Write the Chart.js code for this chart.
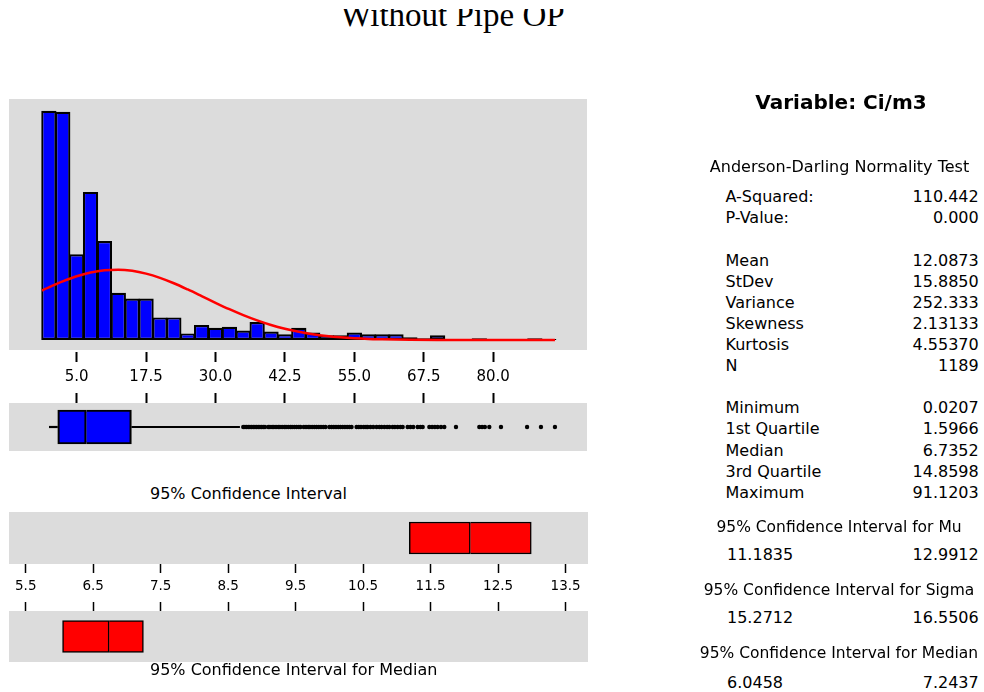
<!DOCTYPE html>
<html><head><meta charset="utf-8">
<script src="https://cdn.jsdelivr.net/npm/chart.js@4.4.1/dist/chart.umd.min.js"></script>
<style>
html,body{margin:0;padding:0;background:#fff;}
body{width:984px;height:692px;position:relative;overflow:hidden;font-family:"DejaVu Sans",sans-serif;color:#000;}
canvas{position:absolute;left:0;}
.t{position:absolute;white-space:nowrap;line-height:20px;height:20px;}
#titleClip{position:absolute;left:0;top:9px;width:984px;height:27px;overflow:hidden;}
#title{position:absolute;left:0;width:905px;text-align:center;top:-12.5px;font-family:"Liberation Serif","Times New Roman",serif;font-size:33px;line-height:36px;white-space:nowrap;}
</style></head><body>
<div id="titleClip"><div id="title">Without Pipe OP</div></div>
<canvas id="hist" width="600" height="300" style="top:90px"></canvas>
<canvas id="box" width="600" height="62" style="top:393px"></canvas>
<canvas id="ciMu" width="600" height="84" style="top:512px"></canvas>
<canvas id="ciMed" width="600" height="60" style="top:602px"></canvas>
<script>
// ---------------- data ----------------
const binCenters = [0, 2.5, 5, 7.5, 10, 12.5, 15, 17.5, 20, 22.5, 25, 27.5, 30, 32.5, 35, 37.5, 40, 42.5, 45, 47.5, 50, 52.5, 55, 57.5, 60, 62.5, 65, 67.5, 70, 72.5, 75, 77.5, 80, 82.5, 85, 87.5, 90];
const binCounts  = [243, 242, 91, 157, 105, 50, 44, 44, 24, 24, 7, 16, 13, 14, 10, 19, 9, 6, 13, 8, 5, 5, 8, 6, 6, 6, 3, 2, 5, 1, 0, 2, 1, 1, 0, 2, 1];
const curveX = [-1.25, 0, 2.5, 5, 7.5, 10, 12.5, 15, 17.5, 20, 22.5, 25, 27.5, 30, 32.5, 35, 37.5, 40, 42.5, 45, 47.5, 50, 52.5, 55, 57.5, 60, 62.5, 65, 70, 80, 91.12];
const curveY = [52.5, 55.9, 62.2, 67.6, 71.6, 74.0, 74.6, 73.4, 70.4, 65.9, 60.2, 53.6, 46.6, 39.5, 32.7, 26.4, 20.8, 15.9, 11.9, 8.7, 6.2, 4.3, 2.9, 1.9, 1.2, 0.8, 0.5, 0.3, 0.1, 0, 0];
const histTicks = [5.0, 17.5, 30.0, 42.5, 55.0, 67.5, 80.0];

const boxMin = 0.0207, boxQ1 = 1.5966, boxMedian = 6.7352, boxQ3 = 14.8598, whiskerHigh = 34.4;
const outliers = [35.0, 35.3, 35.6, 35.9, 36.2, 36.5, 36.8, 37.1, 37.4, 37.7, 38.0, 38.3, 38.6, 38.9,
  39.5, 39.8, 40.2, 40.5, 40.9, 41.3, 41.6, 42.0, 42.4, 42.7, 43.1, 43.5, 43.8, 44.2, 44.6, 45.0, 45.3,
  45.9, 46.3, 46.7, 47.0, 47.4, 47.8, 48.2, 48.6, 49.0, 49.4, 49.8,
  50.5, 50.9, 51.3, 51.7, 52.1, 52.5, 52.9, 53.3, 53.7, 54.1, 54.5,
  55.4, 55.8, 56.2, 56.7, 57.1, 57.4, 57.9, 58.4, 59.0,
  59.5, 59.9, 60.4, 60.9, 61.3, 61.9, 62.3, 62.8, 63.3, 63.7,
  64.6, 65.1, 65.6, 66.4, 66.9, 67.3, 68.5, 69.0, 69.5, 70.0, 70.6, 71.2,
  73.3, 77.5, 78.0, 78.5, 79.3, 81.4, 86.1, 88.6, 91.12];

const muLow = 11.1835, meanVal = 12.0873, muHigh = 12.9912;
const medLow = 6.0458, medVal = 6.7352, medHigh = 7.2437;
const ciTicks = [5.5, 6.5, 7.5, 8.5, 9.5, 10.5, 11.5, 12.5, 13.5];

const statNames  = ["A-Squared:", "P-Value:", "Mean", "StDev", "Variance", "Skewness", "Kurtosis", "N", "Minimum", "1st Quartile", "Median", "3rd Quartile", "Maximum"];
const statValues = ["110.442", "0.000", "12.0873", "15.8850", "252.333", "2.13133", "4.55370", "1189", "0.0207", "1.5966", "6.7352", "14.8598", "91.1203"];
const ciHeads  = ["95% Confidence Interval for Mu", "95% Confidence Interval for Sigma", "95% Confidence Interval for Median"];
const ciLows   = ["11.1835", "15.2712", "6.0458"];
const ciHighs  = ["12.9912", "16.5506", "7.2437"];

// ---------------- layout ----------------
const statRowY = [197.3, 218.3, 260.7, 281.7, 302.5, 323.5, 344.5, 365.5, 408.3, 429.3, 450.5, 471.5, 492.8];
const ciHeadY = [526.7, 590, 653.3];
const ciValY  = [555, 618.3, 683.3];

function addText(txt, x, y, align, size, weight) {
  const d = document.createElement('div');
  d.className = 't';
  d.textContent = txt;
  d.style.fontSize = size + 'px';
  if (weight) d.style.fontWeight = weight;
  d.style.top = (y - 10) + 'px';
  if (align === 'left') d.style.left = x + 'px';
  else if (align === 'right') d.style.right = (984 - x) + 'px';
  else { d.style.left = (x - 300) + 'px'; d.style.width = '600px'; d.style.textAlign = 'center'; }
  document.body.appendChild(d);
}

addText("Variable: Ci/m3", 841, 102, 'center', 20, 'bold');
addText("Anderson-Darling Normality Test", 839.5, 166.7, 'center', 16);
statNames.forEach((n, i) => {
  addText(n, 725.5, statRowY[i], 'left', 16);
  addText(statValues[i], 978.7, statRowY[i], 'right', 16);
});
ciHeads.forEach((h, i) => {
  addText(h, 839, ciHeadY[i], 'center', 15.5);
  addText(ciLows[i], 727, ciValY[i], 'left', 16);
  addText(ciHighs[i], 978.7, ciValY[i], 'right', 16);
});
addText("95% Confidence Interval", 150, 494.3, 'left', 16);
addText("95% Confidence Interval for Median", 150, 670, 'left', 16);

// ---------------- charts ----------------
const panelBg = {
  id: 'panelBg',
  beforeDraw(chart, args, opts) {
    const a = chart.chartArea, c = chart.ctx;
    const it = opts.insetTop || 0, ib = opts.insetBottom || 0;
    c.save();
    c.fillStyle = '#dcdcdc';
    c.fillRect(a.left, a.top + it, a.right - a.left, a.bottom - a.top - it - ib);
    c.restore();
  }
};
function fixedTicks(values) { return function (scale) { scale.ticks = values.map(v => ({ value: v })); }; }

const X_MIN = -7.18, X_MAX = 96.89;
const CI_MIN = 5.252, CI_MAX = 13.832;
const common = { responsive: false, animation: false, devicePixelRatio: 1, events: [] };

new Chart(document.getElementById('hist'), {
  type: 'bar',
  data: { datasets: [
    { type: 'line', data: curveX.map((x, i) => ({ x: x, y: curveY[i] })), borderColor: '#ff0000', borderWidth: 2.5,
      pointRadius: 0, cubicInterpolationMode: 'monotone', fill: false },
    { type: 'bar', data: binCenters.map((x, i) => ({ x: x, y: binCounts[i] })), backgroundColor: '#0000ff',
      borderColor: '#000', borderWidth: 2.2, borderSkipped: false, barPercentage: 1.1, categoryPercentage: 1 }
  ] },
  options: Object.assign({}, common, {
    layout: { padding: { left: 9, right: 13, top: 9, bottom: 0 } },
    plugins: { legend: { display: false }, tooltip: { enabled: false }, panelBg: { insetBottom: 2 } },
    scales: {
      x: { type: 'linear', min: X_MIN, max: X_MAX, offset: false, position: 'bottom',
        afterBuildTicks: fixedTicks(histTicks), afterFit: s => { s.height = 38; },
        grid: { display: true, offset: false, drawOnChartArea: false, drawTicks: true, tickLength: 10, tickWidth: 2, tickColor: '#000' },
        border: { display: false },
        ticks: { autoSkip: false, maxRotation: 0, color: '#000', padding: 6, font: { family: 'DejaVu Sans', size: 15 },
          callback: v => Number(v).toFixed(1) } },
      y: { type: 'linear', min: -12.7, max: 255.5, display: false }
    }
  }),
  plugins: [panelBg]
});

new Chart(document.getElementById('box'), {
  type: 'bar',
  data: { datasets: [
    { type: 'bar', indexAxis: 'y', grouped: false, data: [{ y: 0, x: [boxQ1, boxMedian] }], backgroundColor: '#0000ff',
      borderColor: '#000', borderWidth: 2.2, borderSkipped: false, barThickness: 34 },
    { type: 'bar', indexAxis: 'y', grouped: false, data: [{ y: 0, x: [boxMedian, boxQ3] }], backgroundColor: '#0000ff',
      borderColor: '#000', borderWidth: 2.2, borderSkipped: 'left', barThickness: 34 },
    { type: 'line', data: [{ x: boxMin, y: 0 }, { x: boxQ1, y: 0 }], borderColor: '#000', borderWidth: 2.2, pointRadius: 0 },
    { type: 'line', data: [{ x: boxQ3, y: 0 }, { x: whiskerHigh, y: 0 }], borderColor: '#000', borderWidth: 2.2, pointRadius: 0 },
    { type: 'scatter', data: outliers.map(v => ({ x: v, y: 0 })), pointRadius: 2.2, backgroundColor: '#000', borderWidth: 0 }
  ] },
  options: Object.assign({}, common, {
    layout: { padding: { left: 9, right: 13, top: 0, bottom: 0 } },
    plugins: { legend: { display: false }, tooltip: { enabled: false }, panelBg: {} },
    scales: {
      x: { type: 'linear', min: X_MIN, max: X_MAX, offset: false, position: 'top',
        afterBuildTicks: fixedTicks(histTicks), afterFit: s => { s.height = 10; },
        grid: { display: true, offset: false, drawOnChartArea: false, drawTicks: true, tickLength: 10, tickWidth: 2, tickColor: '#000' },
        border: { display: false }, ticks: { display: false } },
      y: { type: 'linear', min: -1, max: 1, display: false, offset: false }
    }
  }),
  plugins: [panelBg]
});

function ciChart(id, lo, mid, hi, pos, withLabels, axisH) {
  return new Chart(document.getElementById(id), {
    type: 'bar',
    data: { datasets: [
      { type: 'bar', indexAxis: 'y', grouped: false, data: [{ y: 0, x: [lo, mid] }], backgroundColor: '#ff0000',
        borderColor: '#000', borderWidth: 1.5, borderSkipped: false, barThickness: 32 },
      { type: 'bar', indexAxis: 'y', grouped: false, data: [{ y: 0, x: [mid, hi] }], backgroundColor: '#ff0000',
        borderColor: '#000', borderWidth: 1.5, borderSkipped: 'left', barThickness: 32 }
    ] },
    options: Object.assign({}, common, {
      layout: { padding: { left: 9, right: 12, top: 0, bottom: 0 } },
      plugins: { legend: { display: false }, tooltip: { enabled: false }, panelBg: {} },
      scales: {
        x: { type: 'linear', min: CI_MIN, max: CI_MAX, offset: false, position: pos,
          afterBuildTicks: fixedTicks(ciTicks), afterFit: s => { s.height = axisH; },
          grid: { display: true, offset: false, drawOnChartArea: false, drawTicks: true, tickLength: 9, tickWidth: 1.5, tickColor: '#000' },
          border: { display: false },
          ticks: { display: withLabels, autoSkip: false, maxRotation: 0, color: '#000', padding: 5,
            font: { family: 'DejaVu Sans', size: 13.5 }, callback: v => Number(v).toFixed(1) } },
        y: { type: 'linear', min: -1, max: 1, display: false, offset: false }
      }
    }),
    plugins: [panelBg]
  });
}
ciChart('ciMu', muLow, meanVal, muHigh, 'bottom', true, 32);
ciChart('ciMed', medLow, medVal, medHigh, 'top', false, 9);
</script>
</body></html>
